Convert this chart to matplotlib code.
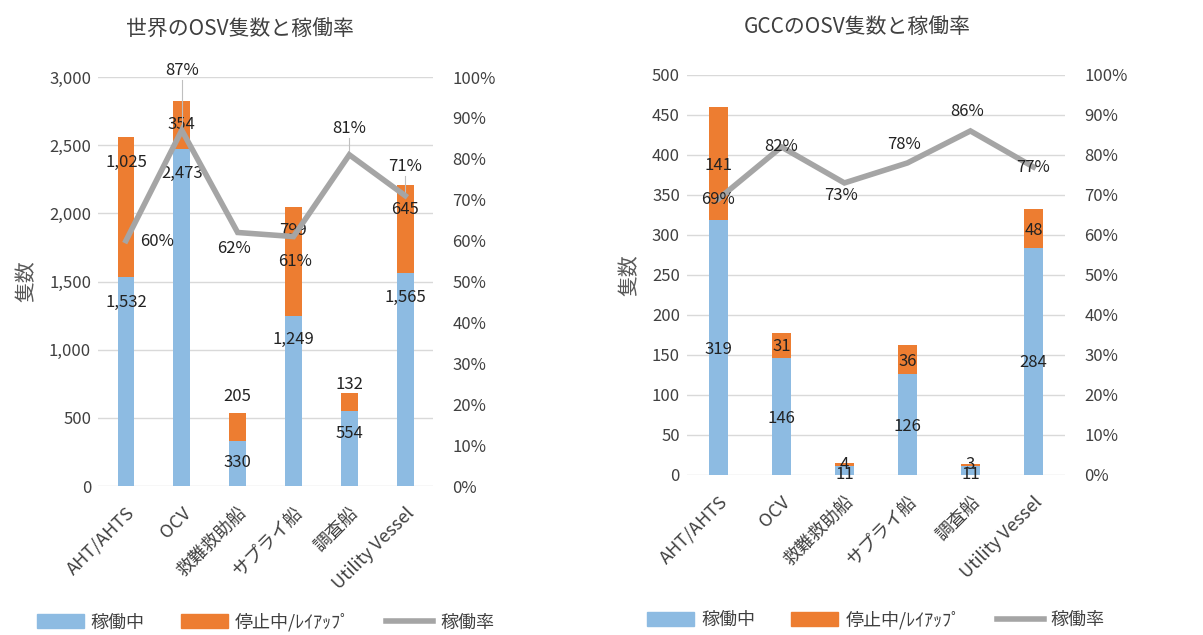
import matplotlib
matplotlib.use("Agg")
import matplotlib.pyplot as plt
from matplotlib.patches import Patch
from matplotlib.lines import Line2D
from matplotlib.ticker import FuncFormatter, PercentFormatter

plt.rcParams['font.family'] = ['Noto Sans CJK JP', 'DejaVu Sans']

categories = ["AHT/AHTS", "OCV", "救難救助船", "サプライ船", "調査船", "Utility Vessel"]

# 世界
world_active = [1532, 2473, 330, 1249, 554, 1565]
world_idle = [1025, 354, 205, 799, 132, 645]
world_rate = [60, 87, 62, 61, 81, 71]

# GCC
gcc_active = [319, 146, 11, 126, 11, 284]
gcc_idle = [141, 31, 4, 36, 3, 48]
gcc_rate = [69, 82, 73, 78, 86, 77]

# where Excel left the data labels (y in axis units)
world_active_lbl = [1349, 2295, 169, 1078, 388, 1385]
world_idle_lbl = [2375, 2654, 660, 1877, 748, 2030]
world_rate_lbl = [59.7, 101.7, 58.2, 54.8, 87.5, 78.2]
world_rate_lbl_dx = [0.55, 0, -0.07, 0.03, 0, 0]

gcc_active_lbl = [157, 70, 0, 60, 0, 141]
gcc_idle_lbl = [387, 160, 13, 142, 13, 306]
gcc_rate_lbl = [68.8, 82, 69.8, 82.5, 90.8, 76.8]
gcc_rate_lbl_dx = [0, 0, -0.05, -0.05, -0.05, 0]

BLUE = "#8DBBE2"
ORANGE = "#ED7D31"
GRAY = "#A5A5A5"
TXT = "#404040"

fig = plt.figure(figsize=(12.03, 6.35), dpi=100)


def draw(rect, title, title_x, active, idle, rate, ymax, ystep, a_lbl, i_lbl, r_lbl, r_dx,
         leaders, legend_y):
    ax = fig.add_axes(rect)
    x = list(range(len(categories)))
    ax.bar(x, active, width=0.3, color=BLUE, zorder=2)
    ax.bar(x, idle, width=0.3, bottom=active, color=ORANGE, zorder=2)
    ax.set_xlim(-0.5, len(categories) - 0.5)
    ax.set_ylim(0, ymax)
    ax.set_yticks(range(0, ymax + 1, ystep))
    ax.yaxis.set_major_formatter(FuncFormatter(lambda v, p: f"{int(v):,}"))
    ax.grid(axis="y", color="#D9D9D9", lw=1, zorder=0)
    for s in ax.spines.values():
        s.set_visible(False)
    ax.tick_params(axis="y", length=0, labelsize=12, colors=TXT, pad=5)
    ax.tick_params(axis="x", length=0, colors=TXT, pad=13)
    ax.set_xticks(x)
    ax.set_xticklabels(categories, rotation=45, ha="right", rotation_mode="anchor",
                       fontsize=13)
    ax.set_ylabel("隻数", fontsize=15, color="#595959", labelpad=8)
    ax.set_title(title, fontsize=15, color=TXT, pad=30, x=title_x)

    for i in x:
        ax.text(i, a_lbl[i], f"{active[i]:,}", ha="center", va="center", fontsize=12,
                color="#222222", zorder=5)
        ax.text(i, i_lbl[i], f"{idle[i]:,}", ha="center", va="center", fontsize=12,
                color="#222222", zorder=5)

    ax2 = ax.twinx()
    ax2.plot(x, rate, color=GRAY, lw=4, zorder=3, solid_joinstyle="miter")
    ax2.set_ylim(0, 100)
    ax2.set_yticks(range(0, 101, 10))
    ax2.yaxis.set_major_formatter(PercentFormatter(decimals=0))
    for s in ax2.spines.values():
        s.set_visible(False)
    ax2.tick_params(length=0, labelsize=12, colors=TXT, pad=14)
    for i in x:
        ax2.text(i + r_dx[i], r_lbl[i], f"{rate[i]}%", ha="center", va="center",
                 fontsize=12, color="#222222", zorder=5)
    for i in leaders:
        ax2.plot([i, i], [rate[i] + 1, r_lbl[i] - 2.5], color="#BFBFBF", lw=0.8)

    handles = [Patch(color=BLUE), Patch(color=ORANGE), Line2D([], [], color=GRAY, lw=4)]
    ax.legend(handles, ["稼働中", "停止中/ﾚｲｱｯﾌﾟ", "稼働率"], loc="center",
              bbox_to_anchor=(0.5, legend_y), ncol=3, frameon=False, fontsize=13,
              handlelength=2.6, handleheight=0.8, handletextpad=0.4, columnspacing=2.0,
              labelcolor=TXT)
    return ax


draw([0.0815, 0.2346, 0.2785, 0.644], "世界のOSV隻数と稼働率", 0.424,
     world_active, world_idle, world_rate, 3000, 500,
     world_active_lbl, world_idle_lbl, world_rate_lbl, world_rate_lbl_dx,
     [1, 4, 5], -0.333)

draw([0.571, 0.252, 0.3142, 0.63], "GCCのOSV隻数と稼働率", 0.45,
     gcc_active, gcc_idle, gcc_rate, 500, 50,
     gcc_active_lbl, gcc_idle_lbl, gcc_rate_lbl, gcc_rate_lbl_dx,
     [], -0.3625)

fig.savefig("out.png", dpi=100)
